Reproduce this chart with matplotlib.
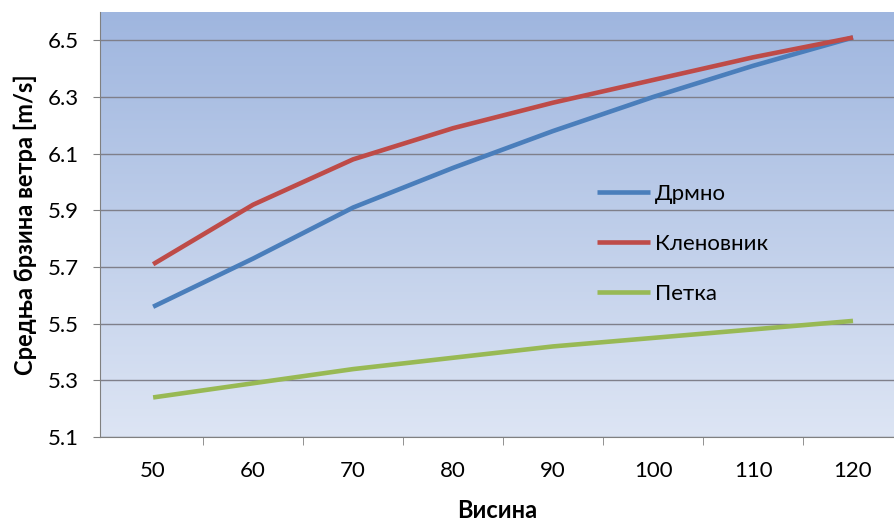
import numpy as np
import matplotlib
matplotlib.use("Agg")
import matplotlib.pyplot as plt
from matplotlib.colors import LinearSegmentedColormap

plt.rcParams["font.family"] = ["Lato", "DejaVu Sans"]

heights = [50, 60, 70, 80, 90, 100, 110, 120]
drmno = [5.56, 5.73, 5.91, 6.05, 6.18, 6.30, 6.41, 6.51]
klenovnik = [5.71, 5.92, 6.08, 6.19, 6.28, 6.36, 6.44, 6.51]
petka = [5.24, 5.29, 5.34, 5.38, 5.42, 5.45, 5.48, 5.51]

series = [
    ("Дрмно", drmno, "#4a7ebb"),
    ("Кленовник", klenovnik, "#be4b48"),
    ("Петка", petka, "#98b954"),
]

fig = plt.figure(figsize=(8.94, 5.21), dpi=100)
ax = fig.add_axes([0.112, 0.161, 0.888, 0.816])

# gradient background of the plot area
bg = LinearSegmentedColormap.from_list("bg", ["#dde5f4", "#9fb6df"])
grad = np.linspace(0, 1, 256).reshape(-1, 1)
ax.imshow(grad, cmap=bg, origin="lower", aspect="auto",
          extent=[0, 1, 0, 1], transform=ax.transAxes, zorder=0)

x = np.arange(len(heights))
for name, values, color in series:
    ax.plot(x, values, color=color, linewidth=3.3, label=name,
            solid_capstyle="butt", zorder=3)

ax.set_xlim(-0.53, 7.41)
ax.set_ylim(5.1, 6.6)
yt = np.arange(5.1, 6.51, 0.2)
ax.set_yticks(yt)
ax.set_yticklabels([f"{v:.1f}" for v in yt])
ax.set_xticks(x)
ax.set_xticklabels([str(h) for h in heights])
ax.set_xticks(x[:-1] + 0.5, minor=True)

ax.grid(axis="y", color="#7f7f8a", linewidth=1, zorder=1)
ax.tick_params(axis="x", which="major", length=0, labelsize=16, pad=17)
ax.tick_params(axis="x", which="minor", length=6, color="#808080")
ax.tick_params(axis="y", length=5, color="#808080", labelsize=16, pad=10)

for side in ["top", "right"]:
    ax.spines[side].set_visible(False)
for side in ["left", "bottom"]:
    ax.spines[side].set_color("#808080")

ax.set_xlabel("Висина", fontsize=17, fontweight="bold", labelpad=13)
ax.set_ylabel("Средња брзина ветра [m/s]", fontsize=17, fontweight="bold",
              labelpad=8)

ax.legend(loc="upper left", bbox_to_anchor=(0.626, 0.596), frameon=False,
          fontsize=16, handlelength=2.4, handletextpad=0.2,
          labelspacing=1.35, borderpad=0, borderaxespad=0)

fig.savefig("out.png", dpi=100)
